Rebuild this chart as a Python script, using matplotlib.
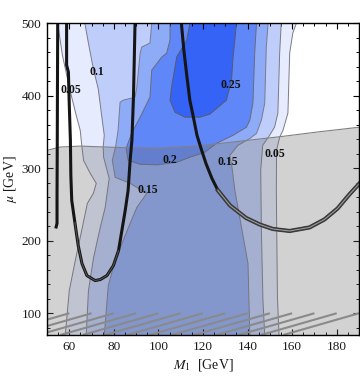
import numpy as np
import matplotlib
matplotlib.use("Agg")
import matplotlib.pyplot as plt
from matplotlib.ticker import MultipleLocator

plt.rcParams['font.family'] = ['Liberation Serif', 'DejaVu Serif']
plt.rcParams['mathtext.fontset'] = 'stix'

# ---------------- data ----------------
# contour level 0.05 boundaries (top -> bottom)
c05_left_m1 = [54.8, 56.9, 60.3, 63.1, 64.9, 65.7, 66.4, 69.4, 72.1, 70.8, 68.1, 66.5, 64.9, 62.7, 60.0, 58.2]
c05_left_mu = [500, 456.2, 407.8, 373.2, 352.5, 329.0, 311.0, 293.0, 279.2, 265.4, 251.5, 228.0, 204.5, 172.8, 131.3, 70]
c05_right_m1 = [161.9, 160.3, 158.9, 158.1, 155.9, 154.4, 153.0, 152.9, 153.4, 154.1]
c05_right_mu = [500, 486.6, 458.9, 376.0, 352.5, 342.8, 324.9, 269.5, 121.6, 70]

# level 0.1
c10_left_m1 = [67.0, 68.5, 70.8, 73.0, 74.5, 75.7, 75.2, 75.4, 77.9, 76.1, 73.9, 70.9, 68.6, 67.6]
c10_left_mu = [500, 474.1, 437.2, 409.6, 373.2, 345.5, 329.0, 315.2, 286.1, 246.0, 218.4, 176.9, 131.3, 70]
c10_right_m1 = [155.1, 154.4, 153.6, 152.1, 149.9, 146.8, 145.9, 146.2, 146.9, 147.7]
c10_right_mu = [500, 458.9, 376.0, 356.6, 345.5, 331.7, 297.3, 214.2, 117.5, 70]

# level 0.15
c15_left_m1 = [97.0, 96.2, 92.5, 91.8, 90.3, 89.5, 84.2, 82.8, 81.9, 80.9, 79.3, 80.6, 87.3, 94.8, 90.3, 86.0, 80.6, 77.5, 75.7]
c15_left_mu = [500, 472.8, 467.2, 458.9, 411.9, 398.1, 393.9, 391.2, 352.5, 331.7, 311.0, 287.5, 279.2, 265.4, 246.0, 214.2, 172.8, 138.2, 70]
c15_right_m1 = [149.2, 148.4, 147.7, 146.2, 144.0, 141.0, 135.6, 132.0, 132.9, 134.3, 140.2, 141.0]
c15_right_mu = [500, 467.2, 389.8, 366.3, 348.0, 341.1, 331.4, 317.6, 303.8, 269.5, 168.6, 70]

# level 0.2 (closed region)
c20_m1 = [105.2, 105.2, 103.7, 101.5, 97.0, 96.2, 91.8, 88.2, 85.5, 86.4, 91.8, 99.4, 108.3,
          114.1, 120.8, 126.1, 133.5, 139.5, 141.0, 142.4, 143.2, 144.0]
c20_mu = [500, 476.9, 458.9, 453.4, 435.4, 398.1, 370.5, 349.7, 327.6, 311.0, 305.5, 304.8, 308.3,
          315.2, 322.1, 334.5, 345.5, 356.6, 366.3, 389.8, 458.9, 500]

# level 0.25 (closed region)
c25_m1 = [114.1, 112.7, 108.2, 105.9, 105.2, 107.4, 111.9, 118.6, 123.1, 130.5, 132.8, 133.5, 134.3, 135.0]
c25_mu = [500, 476.9, 453.4, 411.9, 393.9, 377.4, 370.5, 370.5, 374.6, 393.9, 421.6, 453.4, 476.9, 500]

# grey shaded (excluded) region upper edge
shade_m1 = [50, 56.0, 64.9, 82.8, 100.7, 118.6, 136.5, 154.4, 172.3, 190]
shade_mu = [324.8, 329.3, 330.6, 328.6, 327.6, 331.1, 337.3, 343.5, 350.4, 356.6]

# black curves
curveA_m1 = [54.8, 54.7, 54.6, 54.5, 54.5, 54.1]
curveA_mu = [500, 420, 330, 260, 224, 219]

curveB_m1 = [58.8, 58.8, 59.6, 60.0, 60.5, 60.7, 61.1, 62.5, 64.0, 65.7, 67.9, 71.6, 73.9, 76.9,
             79.8, 82.1, 83.6, 85.1, 86.4, 87.3, 88.1, 88.8, 89.5]
curveB_mu = [500, 442.3, 432.7, 387.0, 338.7, 290.3, 255.7, 225.3, 193.5, 168.6, 152.0, 145.1, 146.5, 152.0,
             165.9, 186.6, 214.2, 241.9, 269.5, 311.0, 338.7, 398.1, 500]

curveC_m1 = [110.3, 111.4, 112.7, 114.1, 115.6, 117.3, 119.1, 121.3, 124.0, 126.7, 132.1, 139.3, 145.4,
             151.3, 158.9, 167.8, 174.5, 180.4, 185.7, 190.0]
curveC_mu = [500, 463.1, 428.5, 393.9, 371.8, 345.5, 327.6, 306.9, 286.1, 269.5, 248.8, 231.5, 222.5,
             216.3, 213.5, 218.4, 229.4, 244.6, 264.0, 278.4]

# contour labels
label_text = ["0.05", "0.1", "0.25", "0.2", "0.15", "0.15", "0.05"]
label_m1 = [60.5, 72.5, 132.3, 105.3, 95.4, 131.1, 152.2]
label_mu = [407.8, 432.7, 414.7, 311.1, 269.5, 308.7, 319.3]

# hatched LEP region
hatch_top_m1 = np.arange(60, 200, 10)
hatch_mu = [70, 100]
hatch_dm1 = 34

x_ticks = [60, 80, 100, 120, 140, 160, 180]
y_ticks = [100, 200, 300, 400, 500]

# ---------------- plotting ----------------
fig = plt.figure(figsize=(3.6, 3.84), dpi=100)
ax = fig.add_axes([47/360, 1-335/384, (359-47)/360, (335-23.3)/384])
ax.set_xlim(50, 190)
ax.set_ylim(70, 500)

cols = ['#e6ecfd', '#bfcdfb', '#8eabf8', '#5f87f7', '#3463f6']

def band(lx, ly, rx, ry):
    return list(lx) + list(rx)[::-1], list(ly) + list(ry)[::-1]

for (lx, ly, rx, ry), c in zip([(c05_left_m1, c05_left_mu, c05_right_m1, c05_right_mu),
                                 (c10_left_m1, c10_left_mu, c10_right_m1, c10_right_mu),
                                 (c15_left_m1, c15_left_mu, c15_right_m1, c15_right_mu)], cols[:3]):
    px, py = band(lx, ly, rx, ry)
    ax.fill(px, py, color=c, lw=0, zorder=1)
    ax.plot(lx, ly, color='#7a7a8a', lw=0.7, zorder=2)
    ax.plot(rx, ry, color='#7a7a8a', lw=0.7, zorder=2)

ax.fill(c20_m1, c20_mu, color=cols[3], lw=0, zorder=1)
ax.plot(c20_m1, c20_mu, color='#6a6a7a', lw=0.7, zorder=2)
ax.fill(c25_m1, c25_mu, color=cols[4], lw=0, zorder=1)
ax.plot(c25_m1, c25_mu, color='#5a5a6a', lw=0.7, zorder=2)

# grey excluded overlay
ax.fill_between(shade_m1, 70, shade_mu, color='#6a6a6a', alpha=0.3, lw=0, zorder=3)
ax.plot(shade_m1, shade_mu, color='#808080', lw=0.8, zorder=3.1)

# hatching
for xt in hatch_top_m1:
    ax.plot([xt - hatch_dm1, xt], hatch_mu, color='#8a8a8a', lw=1.5, zorder=4,
            solid_capstyle='butt')

# black curves
ax.plot(curveA_m1, curveA_mu, color='#151515', lw=2.2, zorder=5, solid_joinstyle='round')
ax.plot(curveB_m1, curveB_mu, color='#151515', lw=2.2, zorder=5, solid_joinstyle='round')
ax.plot(curveB_m1[7:16], curveB_mu[7:16], color='#555555', lw=0.7, zorder=5.1)
ax.plot(curveC_m1, curveC_mu, color='#151515', lw=2.2, zorder=5, solid_joinstyle='round')
ax.plot(curveC_m1[9:], curveC_mu[9:], color='#3a3a3a', lw=3.0, zorder=5.05)
ax.plot(curveC_m1[9:], curveC_mu[9:], color='#9a9a9a', lw=0.8, zorder=5.1)

for t, x, y in zip(label_text, label_m1, label_mu):
    ax.text(x, y, t, ha='center', va='center', fontsize=8.5, fontweight='bold',
            color='#111111', zorder=6)

# axes styling
ax.set_xticks(x_ticks)
ax.set_yticks(y_ticks)
ax.xaxis.set_minor_locator(MultipleLocator(5))
ax.yaxis.set_minor_locator(MultipleLocator(20))
ax.tick_params(which='both', direction='in', top=True, right=True, colors='black',
               labelsize=9.5, labelcolor='#1a1a1a')
ax.tick_params(which='major', length=4.5, width=0.8, pad=4)
ax.tick_params(which='minor', length=2.5, width=0.7)
for s in ax.spines.values():
    s.set_linewidth(1.0)
    s.set_zorder(7)

ax.set_xlabel(r'$M_1$  [GeV]', fontsize=10, labelpad=3, color='#1a1a1a')
ax.set_ylabel(r'$\mu$ [GeV]', fontsize=10, labelpad=2, color='#1a1a1a')

fig.savefig('out.png', dpi=100, facecolor='white')
